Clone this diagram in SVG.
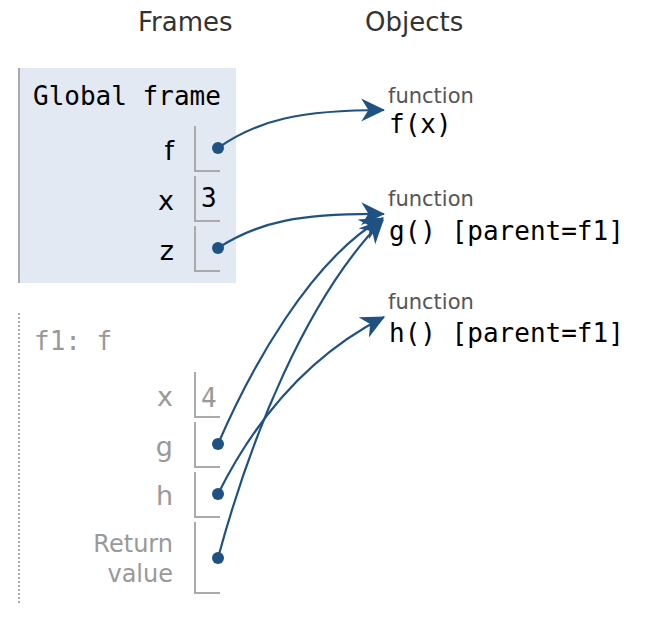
<svg xmlns="http://www.w3.org/2000/svg" width="670" height="640" viewBox="0 0 670 640">
<style>
.hdr{font-family:"DejaVu Sans",Verdana,sans-serif;font-size:26px;fill:#333}
.mono{font-family:"DejaVu Sans Mono","Liberation Mono",monospace;font-size:26px;fill:#000}
.lbl{font-family:"DejaVu Sans",Verdana,sans-serif;font-size:27px;text-anchor:end}
.ret{font-size:24px}
.glbl{fill:#000}
.flbl{fill:#999}
.fn{font-family:"DejaVu Sans",Verdana,sans-serif;font-size:21px;fill:#555}
.cell{fill:none;stroke:#aaa;stroke-width:2}
.dot{fill:#1f5282}
.conn{fill:none;stroke:#1f5282;stroke-width:2.2}
</style>
<defs>
<marker id="ah" markerUnits="userSpaceOnUse" markerWidth="24" markerHeight="24" viewBox="0 0 20 20" refX="19" refY="10" orient="auto">
<path d="M0,0.5 L20,10 L0,19.5 L6,10 z" fill="#1f5282"/>
</marker>
</defs>
<text class="hdr" x="138" y="31">Frames</text>
<text class="hdr" x="365" y="31">Objects</text>
<g id="global-frame">
<rect x="18" y="68" width="218" height="215" fill="#e2e9f3"/>
<line x1="19" y1="68" x2="19" y2="283" stroke="#aaa" stroke-width="2"/>
<text class="mono" x="33" y="105">Global frame</text>
<text class="lbl glbl" x="174" y="160">f</text>
<path class="cell" d="M195,126 V171 H220"/>
<circle class="dot" cx="218" cy="148" r="6"/>
<text class="lbl glbl" x="174" y="210">x</text>
<path class="cell" d="M195,176 V221 H220"/>
<text class="mono" x="201" y="207">3</text>
<text class="lbl glbl" x="174" y="260">z</text>
<path class="cell" d="M195,226 V271 H220"/>
<circle class="dot" cx="218" cy="248" r="6"/>
</g>
<g id="f1-frame">
<line x1="19" y1="313" x2="19" y2="605" stroke="#aaa" stroke-width="2" stroke-dasharray="2,2"/>
<text class="mono" x="34" y="350" style="fill:#999">f1: f</text>
<text class="lbl flbl" x="173" y="406">x</text>
<path class="cell" d="M195,372 V417 H220"/>
<text class="mono" x="201" y="407" style="fill:#999">4</text>
<text class="lbl flbl" x="173" y="456">g</text>
<path class="cell" d="M195,422 V467 H220"/>
<circle class="dot" cx="218" cy="444" r="6"/>
<text class="lbl flbl" x="173" y="505">h</text>
<path class="cell" d="M195,472 V517 H220"/>
<circle class="dot" cx="218" cy="494" r="6"/>
<text class="lbl flbl ret" x="173" y="552">Return</text>
<text class="lbl flbl ret" x="173" y="582">value</text>
<path class="cell" d="M195,522 V593 H220"/>
<circle class="dot" cx="218" cy="558" r="6"/>
</g>
<g id="obj-f">
<text class="fn" x="388" y="103">function</text>
<text class="mono" x="389" y="133">f(x)</text>
</g>
<g id="obj-g">
<text class="fn" x="388" y="206">function</text>
<text class="mono" x="389" y="240">g() [parent=f1]</text>
</g>
<g id="obj-h">
<text class="fn" x="388" y="309">function</text>
<text class="mono" x="389" y="342">h() [parent=f1]</text>
</g>
<g id="connectors">
<path class="conn" marker-end="url(#ah)" d="M218,148 C258,120 300,110 384,110"/>
<path class="conn" marker-end="url(#ah)" d="M218,248 C258,222 300,213 384,214"/>
<path class="conn" marker-end="url(#ah)" d="M218,444 C250,370 310,260 383,218"/>
<path class="conn" marker-end="url(#ah)" d="M218,494 C250,430 300,360 384,317"/>
<path class="conn" marker-end="url(#ah)" d="M218,558 C250,440 305,300 383,220"/>
</g>
</svg>
